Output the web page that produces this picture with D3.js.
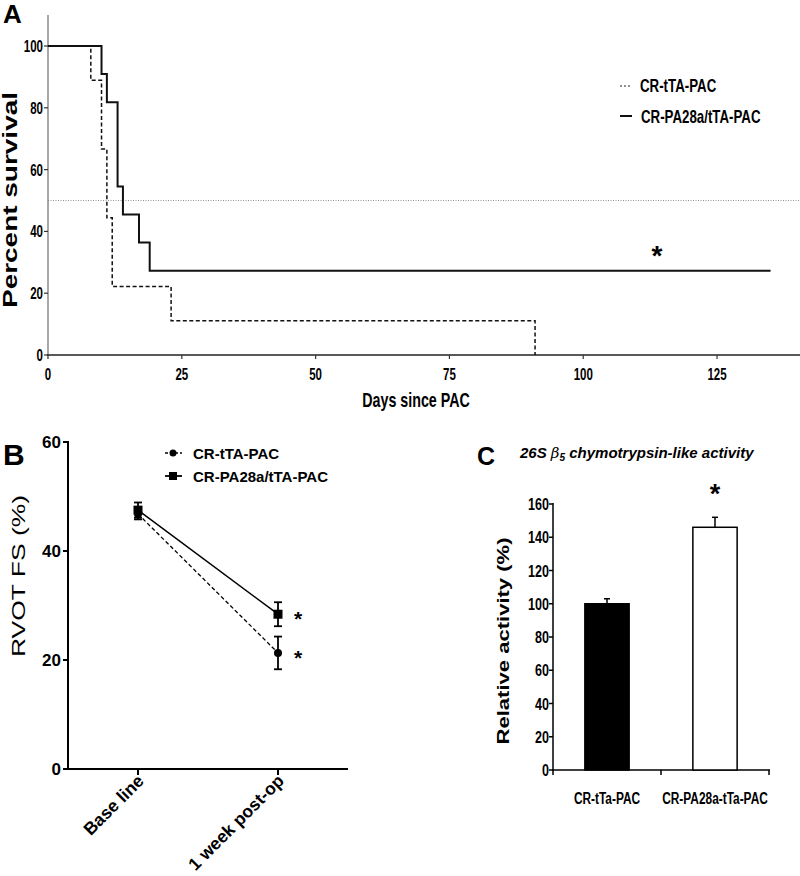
<!DOCTYPE html>
<html><head><meta charset="utf-8">
<script src="https://cdn.jsdelivr.net/npm/d3@7"></script>
<style>body{margin:0;background:#fff}svg{display:block}text{font-family:"Liberation Sans",Arial,sans-serif}</style>
</head><body>
<script>
// ---- Panel A: Kaplan-Meier survival ----
const survDashedDays = [0, 8, 10, 11, 12, 23, 91];
const survDashedPct  = [100, 88.9, 66.7, 44.4, 22.2, 11.1, 0];
const survSolidDays  = [0, 10, 11, 13, 14, 17, 19, 135];
const survSolidPct   = [100, 90.9, 81.8, 54.5, 45.5, 36.4, 27.3, 27.3];
const survNames = ["CR-tTA-PAC", "CR-PA28a/tTA-PAC"];
const survXTicks = [0, 25, 50, 75, 100, 125];
const survYTicks = [0, 20, 40, 60, 80, 100];

// ---- Panel B: RVOT FS ----
const fsCategories = ["Base line", "1 week post-op"];
const fsCircleMean = [46.8, 21.3];
const fsCircleErr  = [1.0, 3.0];
const fsSquareMean = [47.5, 28.4];
const fsSquareErr  = [1.4, 2.2];
const fsYTicks = [0, 20, 40, 60];

// ---- Panel C: 26S activity ----
const actCategories = ["CR-tTa-PAC", "CR-PA28a-tTa-PAC"];
const actValues = [100, 146];
const actErr = [3, 6];
const actYTicks = [0, 20, 40, 60, 80, 100, 120, 140, 160];

const svg = d3.select("body").append("svg").attr("width", 800).attr("height", 876);

function txt(g, o) {
  const t = g.append("text").text(o.text)
    .attr("font-size", o.size).attr("font-weight", o.weight || "bold")
    .attr("text-anchor", o.anchor || "start").attr("fill", "#000");
  if (o.italic) t.attr("font-style", "italic");
  let tr = `translate(${o.x},${o.y})`;
  if (o.rotate) tr += ` rotate(${o.rotate})`;
  if (o.sx) tr += ` scale(${o.sx},1)`;
  t.attr("transform", tr);
  if (o.len) t.attr("textLength", o.len).attr("lengthAdjust", "spacingAndGlyphs");
  return t;
}

// ================= Panel A =================
{
  const g = svg.append("g");
  const x = d3.scaleLinear().domain([0, 140.5]).range([48, 800]);
  const y = d3.scaleLinear().domain([0, 100]).range([355, 46]);

  // y axis
  g.append("line").attr("x1", 48).attr("x2", 48).attr("y1", 15).attr("y2", 355)
    .attr("stroke", "#8a8a8a").attr("stroke-width", 1.5);
  survYTicks.forEach(v => {
    g.append("line").attr("x1", 44).attr("x2", 48).attr("y1", y(v)).attr("y2", y(v)).attr("stroke", "#333").attr("stroke-width", 1.2);
    txt(g, {x: 43, y: y(v) + 6, text: v, size: 16, anchor: "end", sx: 0.72});
  });
  // x axis
  g.append("line").attr("x1", 47).attr("x2", 800).attr("y1", 355).attr("y2", 355)
    .attr("stroke", "#222").attr("stroke-width", 1.5);
  survXTicks.forEach(v => {
    g.append("line").attr("x1", x(v)).attr("x2", x(v)).attr("y1", 355).attr("y2", 359).attr("stroke", "#333").attr("stroke-width", 1.2);
    txt(g, {x: x(v), y: 380, text: v, size: 16, anchor: "middle", sx: 0.72});
  });
  // 50% reference line
  g.append("line").attr("x1", 48).attr("x2", 800).attr("y1", y(50)).attr("y2", y(50))
    .attr("stroke", "#777").attr("stroke-width", 0.8).attr("stroke-dasharray", "1,1.5");

  const step = d3.line().x(d => x(d[0])).y(d => y(d[1])).curve(d3.curveStepAfter);
  const dashed = survDashedDays.map((d, i) => [d, survDashedPct[i]]);
  const solid = survSolidDays.map((d, i) => [d, survSolidPct[i]]);
  g.append("path").attr("d", step(dashed)).attr("fill", "none").attr("stroke", "#111")
    .attr("stroke-width", 1.5).attr("stroke-dasharray", "4,2.5");
  g.append("path").attr("d", step(solid)).attr("fill", "none").attr("stroke", "#111").attr("stroke-width", 2);

  // legend
  g.append("line").attr("x1", 620).attr("x2", 631).attr("y1", 86).attr("y2", 86)
    .attr("stroke", "#222").attr("stroke-width", 1).attr("stroke-dasharray", "2,2");
  g.append("line").attr("x1", 620).attr("x2", 632).attr("y1", 116).attr("y2", 116)
    .attr("stroke", "#111").attr("stroke-width", 2);
  txt(g, {x: 640, y: 92, text: survNames[0], size: 19, sx: 0.7});
  txt(g, {x: 641, y: 123, text: survNames[1], size: 19, sx: 0.7});

  // asterisk
  txt(g, {x: 657, y: 265, text: "*", size: 28, anchor: "middle"});
  // axis titles
  txt(g, {x: 416, y: 407, text: "Days since PAC", size: 21, anchor: "middle", sx: 0.68});
  txt(g, {x: 17, y: 200, text: "Percent survival", size: 20, anchor: "middle", rotate: -90, len: 216});
  txt(g, {x: 3, y: 23, text: "A", size: 26});
}

// ================= Panel B =================
{
  const g = svg.append("g");
  const x = d3.scalePoint().domain(fsCategories).range([68, 348]).padding(0.5);
  const y = d3.scaleLinear().domain([0, 60]).range([769, 442]);

  g.append("line").attr("x1", 68).attr("x2", 68).attr("y1", 441).attr("y2", 770).attr("stroke", "#000").attr("stroke-width", 2);
  g.append("line").attr("x1", 67).attr("x2", 348).attr("y1", 769).attr("y2", 769).attr("stroke", "#000").attr("stroke-width", 2);
  fsYTicks.forEach(v => {
    g.append("line").attr("x1", 63).attr("x2", 68).attr("y1", y(v)).attr("y2", y(v)).attr("stroke", "#000").attr("stroke-width", 2);
    txt(g, {x: 61, y: y(v) + 6, text: v, size: 17, anchor: "end"});
  });
  fsCategories.forEach(c => {
    g.append("line").attr("x1", x(c)).attr("x2", x(c)).attr("y1", 769).attr("y2", 775).attr("stroke", "#000").attr("stroke-width", 2);
    txt(g, {x: x(c) + 7, y: 782, text: c, size: 17.5, anchor: "end", rotate: -45});
  });

  const line = d3.line().x((d, i) => x(fsCategories[i])).y(d => y(d));
  g.append("path").attr("d", line(fsCircleMean)).attr("fill", "none").attr("stroke", "#000")
    .attr("stroke-width", 1.3).attr("stroke-dasharray", "4,2.5");
  g.append("path").attr("d", line(fsSquareMean)).attr("fill", "none").attr("stroke", "#000").attr("stroke-width", 1.5);

  function errBar(cx, m, e) {
    g.append("line").attr("x1", cx).attr("x2", cx).attr("y1", y(m - e)).attr("y2", y(m + e)).attr("stroke", "#000").attr("stroke-width", 1.8);
    [m - e, m + e].forEach(v => g.append("line").attr("x1", cx - 4).attr("x2", cx + 4).attr("y1", y(v)).attr("y2", y(v)).attr("stroke", "#000").attr("stroke-width", 1.8));
  }
  fsCategories.forEach((c, i) => {
    errBar(x(c), fsCircleMean[i], fsCircleErr[i]);
    errBar(x(c), fsSquareMean[i], fsSquareErr[i]);
    g.append("circle").attr("cx", x(c)).attr("cy", y(fsCircleMean[i])).attr("r", 4).attr("fill", "#000");
    g.append("rect").attr("x", x(c) - 4.5).attr("y", y(fsSquareMean[i]) - 4.5).attr("width", 9).attr("height", 9).attr("fill", "#000");
  });
  // asterisks at 1 week
  txt(g, {x: 298, y: y(fsSquareMean[1]) + 12, text: "*", size: 21, anchor: "middle"});
  txt(g, {x: 298, y: y(fsCircleMean[1]) + 12, text: "*", size: 21, anchor: "middle"});

  // legend
  g.append("line").attr("x1", 165).attr("x2", 182).attr("y1", 453).attr("y2", 453).attr("stroke", "#000").attr("stroke-width", 1.5).attr("stroke-dasharray", "3,2");
  g.append("circle").attr("cx", 173).attr("cy", 453).attr("r", 3.5).attr("fill", "#000");
  g.append("line").attr("x1", 165).attr("x2", 182).attr("y1", 476).attr("y2", 476).attr("stroke", "#000").attr("stroke-width", 1.8);
  g.append("rect").attr("x", 169).attr("y", 472).attr("width", 8).attr("height", 8).attr("fill", "#000");
  txt(g, {x: 193, y: 459, text: survNames[0], size: 15});
  txt(g, {x: 193, y: 482, text: survNames[1], size: 15});

  txt(g, {x: 25, y: 576, text: "RVOT FS (%)", size: 19, weight: "normal", anchor: "middle", rotate: -90, len: 162});
  txt(g, {x: 3, y: 465, text: "B", size: 30});
}

// ================= Panel C =================
{
  const g = svg.append("g");
  const x = d3.scaleBand().domain(actCategories).range([553, 769]);
  const y = d3.scaleLinear().domain([0, 160]).range([770, 504]);
  const bw = x.bandwidth() * 0.41;

  g.append("line").attr("x1", 553).attr("x2", 553).attr("y1", 503).attr("y2", 771).attr("stroke", "#000").attr("stroke-width", 1.5);
  g.append("line").attr("x1", 552).attr("x2", 770).attr("y1", 770).attr("y2", 770).attr("stroke", "#000").attr("stroke-width", 1.5);
  actYTicks.forEach(v => {
    g.append("line").attr("x1", 549).attr("x2", 553).attr("y1", y(v)).attr("y2", y(v)).attr("stroke", "#000").attr("stroke-width", 1.5);
    txt(g, {x: 549, y: y(v) + 6, text: v, size: 17, anchor: "end", sx: 0.74});
  });
  [...actCategories.map(c => x(c)), 769].forEach(v => {
    g.append("line").attr("x1", v).attr("x2", v).attr("y1", 770).attr("y2", 775).attr("stroke", "#000").attr("stroke-width", 1.5);
  });
  actCategories.forEach((c, i) => {
    const cx = x(c) + x.bandwidth() / 2;
    g.append("line").attr("x1", cx).attr("x2", cx).attr("y1", y(actValues[i])).attr("y2", y(actValues[i] + actErr[i])).attr("stroke", "#000").attr("stroke-width", 1.5);
    g.append("line").attr("x1", cx - 3).attr("x2", cx + 3).attr("y1", y(actValues[i] + actErr[i])).attr("y2", y(actValues[i] + actErr[i])).attr("stroke", "#000").attr("stroke-width", 1.5);
    g.append("rect").attr("x", cx - bw / 2).attr("y", y(actValues[i])).attr("width", bw).attr("height", y(0) - y(actValues[i]))
      .attr("fill", i === 0 ? "#000" : "#fff").attr("stroke", "#000").attr("stroke-width", 1.5);
    txt(g, {x: cx, y: 804, text: c, size: 17, anchor: "middle", sx: 0.7});
  });
  txt(g, {x: x(actCategories[1]) + x.bandwidth() / 2, y: 503, text: "*", size: 27, anchor: "middle"});

  // title
  const t = g.append("text").attr("x", 520).attr("y", 458).attr("font-size", 15).attr("font-weight", "bold")
    .attr("font-style", "italic").attr("fill", "#000");
  t.append("tspan").text("26S ");
  t.append("tspan").text("β").attr("font-family", "DejaVu Serif").attr("font-weight", "normal");
  t.append("tspan").text("5").attr("font-size", 10).attr("dy", 3);
  t.append("tspan").text(" chymotrypsin-like activity").attr("dy", -3);
  txt(g, {x: 509, y: 641, text: "Relative activity (%)", size: 16, anchor: "middle", rotate: -90, len: 207});
  txt(g, {x: 477, y: 465, text: "C", size: 25});
}
</script>
</body></html>
